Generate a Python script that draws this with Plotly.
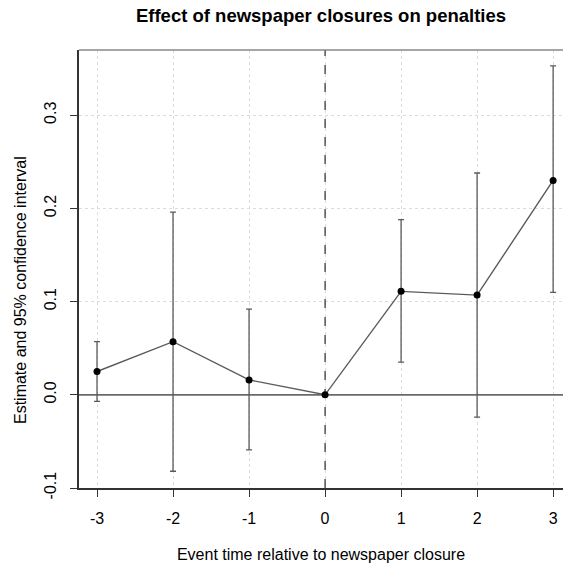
import plotly.graph_objects as go

event_time = [-3, -2, -1, 0, 1, 2, 3]
estimate = [0.025, 0.057, 0.016, 0.0, 0.111, 0.107, 0.230]
ci_low = [-0.007, -0.082, -0.059, 0.0, 0.035, -0.024, 0.110]
ci_high = [0.057, 0.196, 0.092, 0.0, 0.188, 0.238, 0.353]
x_ticks = [-3, -2, -1, 0, 1, 2, 3]
x_tick_text = ["-3", "-2", "-1", "0", "1", "2", "3"]
y_ticks = [-0.1, 0.0, 0.1, 0.2, 0.3]
y_tick_text = ["-0.1", "0.0", "0.1", "0.2", "0.3"]
x_range = [-3.237, 3.13]
y_range = [-0.1, 0.37]
event_zero = 0
effect_zero = 0.0

err_plus = [h - e for h, e in zip(ci_high, estimate)]
err_minus = [e - l for e, l in zip(estimate, ci_low)]

FONT = "Liberation Sans, Arial, sans-serif"

fig = go.Figure()
# reference lines (as traces so they sit above the grid)
fig.add_trace(go.Scatter(
    x=x_range, y=[effect_zero, effect_zero], mode="lines",
    line=dict(color="#6a6a6a", width=1.8), hoverinfo="skip", showlegend=False,
))
fig.add_trace(go.Scatter(
    x=[event_zero, event_zero], y=y_range, mode="lines",
    line=dict(color="black", width=1, dash="dash"), hoverinfo="skip", showlegend=False,
))
fig.add_trace(go.Scatter(
    x=event_time, y=estimate, mode="lines+markers",
    line=dict(color="#5a5a5a", width=1.4),
    marker=dict(color="black", size=7),
    error_y=dict(type="data", array=err_plus, arrayminus=err_minus,
                 color="#5a5a5a", thickness=1.3, width=3, visible=True),
    showlegend=False,
    cliponaxis=False,
))

fig.add_shape(type="line", xref="paper", yref="paper", x0=0, x1=1, y0=1, y1=1,
              line=dict(color="#888888", width=1.5))

fig.add_annotation(
    text="Estimate and 95% confidence interval", textangle=-90,
    xref="paper", x=0, xshift=-59, xanchor="center",
    yref="paper", y=0.452, yanchor="middle",
    showarrow=False, font=dict(size=16, family=FONT, color="black"),
)

fig.update_layout(
    width=563, height=567,
    margin=dict(l=79, r=0, t=50, b=79, autoexpand=False),
    paper_bgcolor="white", plot_bgcolor="white",
    font=dict(family=FONT, size=16, color="black"),
    title=dict(text="<b>Effect of newspaper closures on penalties</b>",
               x=0.5, xref="paper", xanchor="center",
               y=1 - 16 / 567, yref="container", yanchor="middle",
               font=dict(size=18.5, family=FONT, color="black")),
)
fig.update_xaxes(
    range=x_range, tickmode="array", tickvals=x_ticks, ticktext=x_tick_text,
    ticks="outside", ticklen=7, tickcolor="#333333", tickwidth=1,
    showline=True, linecolor="#333333", linewidth=1.5,
    showgrid=True, gridcolor="#dcdcdc", griddash="dot", gridwidth=1,
    zeroline=False, ticklabelstandoff=8, automargin=False,
    title=dict(text="Event time relative to newspaper closure", standoff=23,
               font=dict(size=16)),
)
fig.update_yaxes(
    range=y_range, tickmode="array", tickvals=y_ticks, ticktext=y_tick_text,
    ticks="outside", ticklen=7, tickcolor="#333333", tickwidth=1,
    tickangle=-90,
    showline=True, linecolor="#333333", linewidth=1.5,
    showgrid=True, gridcolor="#dcdcdc", griddash="dot", gridwidth=1,
    zeroline=False, ticklabelstandoff=8, automargin=False,
)

fig.write_html("out.html", config={"displayModeBar": False},
               post_script="document.body.style.margin='0px';document.body.style.overflow='hidden';")
